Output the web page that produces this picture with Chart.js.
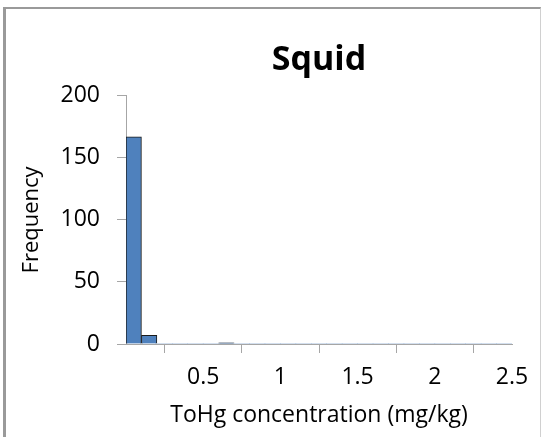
<!DOCTYPE html>
<html>
<head>
<meta charset="utf-8">
<script src="https://cdn.jsdelivr.net/npm/chart.js@4/dist/chart.umd.min.js"></script>
<style>
  html, body { margin: 0; padding: 0; background: #fff; }
  #wrap { position: relative; width: 541px; height: 437px; overflow: hidden; }
  #frame {
    position: absolute; left: 3px; top: 7px; width: 534px; height: 440px;
    border-left: 3px solid #9a9a9a; border-top: 2px solid #9a9a9a;
    border-right: 1px solid #d0d0d0; pointer-events: none;
  }
  canvas { position: absolute; left: 0; top: 0; }
</style>
</head>
<body>
<div id="wrap">
  <canvas id="c" width="541" height="437"></canvas>
  <div id="frame"></div>
</div>
<script>
// Histogram bins (lower edge of each 0.1 mg/kg bin) and counts per bin
const binStarts = [0.0, 0.1, 0.2, 0.3, 0.4, 0.5, 0.6, 0.7, 0.8, 0.9,
                   1.0, 1.1, 1.2, 1.3, 1.4, 1.5, 1.6, 1.7, 1.8, 1.9,
                   2.0, 2.1, 2.2, 2.3, 2.4];
const frequency = [167, 7, 0, 0, 0, 0, 1, 0, 0, 0,
                   0, 0, 0, 0, 0, 0, 0, 0, 0, 0,
                   0, 0, 0, 0, 0];
const binWidth = 0.1;
const xTicks = [0, 0.5, 1, 1.5, 2, 2.5];
const yTicks = [0, 50, 100, 150, 200];

const FONT = "'Open Sans', 'Liberation Sans', sans-serif";

const points = binStarts.map((b, i) => ({ x: b + binWidth / 2, y: frequency[i] }));

new Chart(document.getElementById('c'), {
  type: 'bar',
  data: {
    datasets: [{
      data: points,
      backgroundColor: '#4f81bd',
      borderColor: '#1a1a1a',
      borderWidth: ctx => (ctx.raw && ctx.raw.y > 0 ? 1 : 0),
      borderSkipped: 'start',
      barPercentage: 1,
      categoryPercentage: 1
    }]
  },
  options: {
    responsive: false,
    animation: false,
    layout: { padding: { left: 0, right: 29, top: 0, bottom: 0 } },
    plugins: {
      legend: { display: false },
      tooltip: { enabled: false },
      title: {
        display: true,
        fullSize: false,
        text: 'Squid',
        color: '#000',
        font: { family: FONT, size: 34, weight: 'bold' },
        padding: { top: 40, bottom: 15 },
        align: 'center'
      }
    },
    scales: {
      x: {
        type: 'linear',
        offset: false,
        min: 0,
        max: 2.5,
        afterBuildTicks: s => { s.ticks = xTicks.map(v => ({ value: v })); },
        afterFit: s => { s.height = 93; },
        ticks: {
          color: '#000',
          font: { family: FONT, size: 23 },
          padding: 11,
          maxRotation: 0,
          autoSkip: false,
          callback: v => (v === 0 ? '' : String(v))
        },
        grid: { display: true, drawOnChartArea: false, tickLength: 9, color: '#a6a6a6', tickColor: '#a6a6a6' },
        border: { display: true, color: '#a6a6a6', width: 1 },
        title: {
          display: true,
          text: 'ToHg concentration (mg/kg)',
          color: '#000',
          font: { family: FONT, size: 23 },
          padding: { top: 0, bottom: 8 }
        }
      },
      y: {
        type: 'linear',
        min: 0,
        max: 200,
        afterBuildTicks: s => { s.ticks = yTicks.map(v => ({ value: v })); },
        afterFit: s => { s.width = 126; },
        ticks: {
          color: '#000',
          font: { family: FONT, size: 23 },
          padding: 17
        },
        grid: { display: true, drawOnChartArea: false, tickLength: 9, color: '#a6a6a6', tickColor: '#a6a6a6' },
        border: { display: true, color: '#a6a6a6', width: 1 },
        title: {
          display: true,
          text: 'Frequency',
          color: '#000',
          font: { family: FONT, size: 22 },
          padding: { top: 19, bottom: 0 }
        }
      }
    }
  }
});
</script>
</body>
</html>
